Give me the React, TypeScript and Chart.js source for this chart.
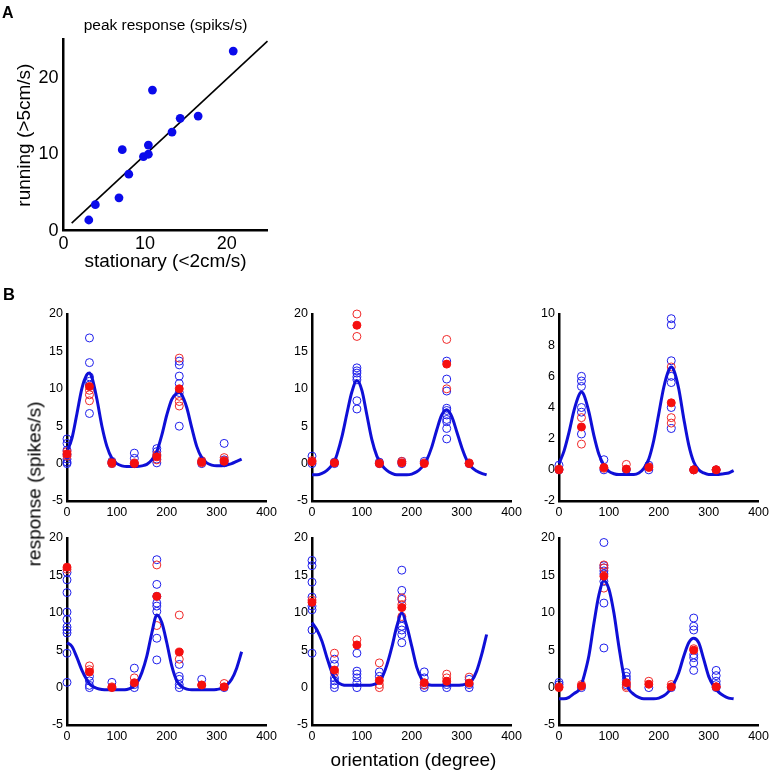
import React, { useEffect, useRef } from "react";
import { Chart, registerables } from "chart.js";

Chart.register(...registerables);

const FONT = '"Liberation Sans", Arial, Helvetica, sans-serif';
Chart.defaults.font.family = FONT;
Chart.defaults.color = "#000";

// ---------- Panel A data ----------
const A_STATIONARY = [3.1, 3.9, 6.8, 7.2, 8.0, 9.8, 10.4, 10.4, 10.9, 13.3, 14.3, 16.5, 20.8];
const A_RUNNING = [1.4, 3.4, 4.3, 10.6, 7.4, 9.7, 10.0, 11.2, 18.4, 12.9, 14.7, 15.0, 23.5];
const A_FIT_X = [1, 25];
const A_FIT_Y = [1, 24.8];
const A_TICKS = [0, 10, 20];

// ---------- Panel B data ----------
const ANGLES = [0, 45, 90, 135, 180, 225, 270, 315];
const CURVE_ANGLES = [
  0, 10, 20, 30, 40, 45, 50, 60, 70, 80, 90, 100, 110, 120, 130, 140, 150, 160, 170,
  180, 190, 200, 210, 220, 225, 230, 240, 250, 260, 270, 280, 290, 300, 310, 320, 330, 340, 350,
];

// cell 1 (top-left)
const C1_BLUE = [
  [3.3, 2.7, 1.8, 1.2, 0.6, 0.2, 0],
  [16.8, 13.5, 11.6, 11.0, 10.5, 6.7],
  [0.3, 0],
  [1.4, 0.7, 0],
  [2.0, 1.6, 1.1, 0.6, 0.1],
  [13.7, 13.2, 11.7, 10.7, 9.5, 5.0],
  [0.3, 0],
  [2.7, 0.5, 0.1],
];
const C1_RED_OPEN = [[1.6, 1.0], [9.8, 9.2, 8.4], [0.2, 0], [0.1], [1.2, 0.5], [14.1, 9.0, 8.3, 7.7], [0.4, 0.1], [0.8, 0.4]];
const C1_RED_MEAN = [1.3, 10.3, 0.1, 0.0, 0.9, 10.0, 0.2, 0.3];
const C1_CURVE = [
  1.6, 3.4, 6.7, 10.1, 11.9, 12.1, 11.5, 8.6, 5.0, 2.3, 0.7, 0.0, -0.3, -0.4, -0.4, -0.4, -0.3, -0.1, 0.5,
  1.6, 3.8, 6.5, 8.6, 9.4, 9.5, 9.2, 7.5, 4.8, 2.3, 0.8, 0.1, -0.2, -0.3, -0.3, -0.2, 0.0, 0.3, 0.6,
];

// cell 2 (top-middle)
const C2_BLUE = [
  [1.0, 0],
  [0.2, 0],
  [12.8, 12.4, 12.1, 11.6, 11.2, 8.4, 7.3],
  [0.2, 0],
  [0.3, 0],
  [0.3],
  [13.7, 11.3, 9.7, 7.4, 7.1, 6.5, 5.9, 5.6, 4.7, 3.3],
  [0],
];
const C2_RED_OPEN = [[0.4], [0.1], [20.0, 17.0], [0.1], [0.3], [0.1], [16.6, 10.0], [0.1]];
const C2_RED_MEAN = [0.25, 0.1, 18.5, 0.0, 0.1, 0.0, 13.3, 0.0];
const C2_CURVE = [
  -1.5, -1.5, -1.3, -0.9, -0.2, 0.3, 1.2, 3.6, 6.7, 9.6, 11.1, 9.8, 6.5, 3.2, 1.0, -0.2, -0.9, -1.3, -1.5,
  -1.5, -1.5, -1.4, -1.1, -0.5, 0.0, 0.5, 2.2, 4.5, 6.5, 7.2, 6.3, 4.3, 2.2, 0.5, -0.5, -1.0, -1.3, -1.5,
];

// cell 3 (top-right)
const C3_BLUE = [
  [0.3, 0],
  [6.0, 5.7, 5.35, 4.0, 3.7, 2.3],
  [0.65, 0],
  [0],
  [0.3, 0],
  [9.7, 9.3, 7.0, 6.0, 5.6, 4.0, 2.65],
  [0],
  [0],
];
const C3_RED_OPEN = [[0.05], [3.35, 1.65], [0.1], [0.35], [0.2], [6.6, 3.35, 3.0], [0], [0]];
const C3_RED_MEAN = [0.0, 2.75, 0.15, 0.05, 0.15, 4.3, 0.0, 0.0];
const C3_CURVE = [
  0.4, 1.2, 2.4, 3.8, 4.8, 5.0, 4.8, 3.7, 2.2, 1.0, 0.3, -0.1, -0.25, -0.3, -0.3, -0.3, -0.3, -0.2, 0.1,
  0.7, 1.9, 3.6, 5.3, 6.4, 6.6, 6.4, 5.2, 3.3, 1.6, 0.5, 0.0, -0.2, -0.3, -0.3, -0.3, -0.25, -0.2, -0.05,
];

// cell 4 (bottom-left)
const C4_BLUE = [
  [15.4, 14.4, 12.7, 10.1, 9.1, 8.1, 7.7, 7.3, 4.6, 0.7],
  [1.5, 0.9, 0.3, 0],
  [0.7],
  [2.6, 0.4, 0],
  [17.1, 13.8, 12.2, 11.3, 10.9, 10.2, 6.6, 3.7],
  [3.1, 1.5, 1.1, 0.4, 0],
  [1.1],
  [0],
];
const C4_RED_OPEN = [[15.8], [2.9, 2.4], [0.1], [1.3], [16.4, 8.3], [9.7, 3.8], [0.3], [0.55]];
const C4_RED_MEAN = [16.1, 2.1, 0.0, 0.65, 12.2, 4.75, 0.35, 0.1];
const C4_CURVE = [
  6.0, 5.5, 4.0, 2.3, 1.0, 0.5, 0.2, -0.1, -0.25, -0.3, -0.3, -0.3, -0.3, -0.25, 0.0, 0.6, 2.0, 4.2, 7.3,
  9.7, 8.7, 6.0, 2.9, 0.9, 0.45, 0.1, -0.2, -0.3, -0.3, -0.3, -0.3, -0.3, -0.25, -0.1, 0.3, 1.1, 2.6, 4.8,
];

// cell 5 (bottom-middle)
const C5_BLUE = [
  [17.0, 16.3, 14.1, 12.1, 10.9, 10.4, 7.7, 4.6],
  [3.8, 3.1, 1.3, 0.9, 0.4, 0],
  [4.6, 2.2, 1.8, 1.3, 0.65, 0],
  [2.1, 1.5],
  [15.7, 13.0, 11.8, 9.3, 8.2, 7.7, 7.1, 6.0],
  [2.1, 1.3, 0.4, 0],
  [0.4, 0],
  [1.1, 0.4, 0],
];
const C5_RED_OPEN = [[11.7], [4.6, 2.0], [6.4], [3.3, 0.4, 0], [12.0, 11.1, 9.5], [0.3], [1.8, 1.3], [1.4]];
const C5_RED_MEAN = [11.4, 2.35, 5.7, 0.95, 10.7, 0.65, 0.85, 0.6];
const C5_CURVE = [
  8.7, 7.7, 6.2, 4.0, 2.0, 1.3, 0.8, 0.4, 0.3, 0.3, 0.3, 0.3, 0.3, 0.35, 0.6, 1.3, 3.0, 5.4, 8.2,
  10.0, 8.2, 5.5, 2.7, 1.1, 0.7, 0.5, 0.3, 0.3, 0.3, 0.3, 0.3, 0.3, 0.35, 0.5, 0.9, 2.2, 4.4, 7.1,
];

// cell 6 (bottom-right)
const C6_BLUE = [
  [0.7, 0.4],
  [0],
  [19.4, 16.3, 16.0, 15.6, 15.2, 14.2, 11.3, 5.3],
  [2.0, 1.5, 1.1, 0.4],
  [0],
  [0],
  [9.3, 8.2, 7.7, 4.4, 4.0, 3.3, 2.3],
  [2.3, 1.6, 0.85, 0.4, 0],
];
const C6_RED_OPEN = [[0.1], [0.4], [16.4, 16.0, 13.3], [0.2, 0], [0.85], [0.4], [5.2], [0.1]];
const C6_RED_MEAN = [0.0, 0.2, 14.9, 0.65, 0.45, 0.1, 5.0, 0.1];
const C6_CURVE = [
  -1.5, -1.5, -1.3, -0.8, -0.3, 0.4, 1.5, 4.3, 8.6, 12.4, 14.3, 13.2, 10.0, 5.5, 1.6, -0.2, -0.9, -1.3, -1.5,
  -1.5, -1.5, -1.4, -1.1, -0.5, 0.0, 0.5, 2.0, 4.2, 6.0, 6.6, 6.0, 3.8, 1.5, 0.2, -0.6, -1.1, -1.4, -1.5,
];

const X_TICKS = [0, 100, 200, 300, 400];
const Y_RANGE_WIDE = [-5, 20, 5];
const Y_RANGE_NARROW = [-2, 10, 2];

// ---------- styles ----------
const BLUE_PT = "rgb(30,30,235)";
const RED_PT = "rgb(245,15,15)";
const RED_OPEN = "rgb(240,40,40)";
const CURVE_BLUE = "rgb(15,15,215)";
const A_DOT = "rgb(10,10,235)";

const PLOT_W = 202;
const PLOT_H = 187;
const Y_AXIS_W = 50;
const X_AXIS_H = 25;
const PAD_TOP = 12;
const PAD_RIGHT = 12;

type Cell = {
  blue: number[][];
  redOpen: number[][];
  redMean: number[];
  curve: number[];
  yRange: number[];
  plotLeft: number;
  plotTop: number;
};

const CELLS: Cell[] = [
  { blue: C1_BLUE, redOpen: C1_RED_OPEN, redMean: C1_RED_MEAN, curve: C1_CURVE, yRange: Y_RANGE_WIDE, plotLeft: 67, plotTop: 314 },
  { blue: C2_BLUE, redOpen: C2_RED_OPEN, redMean: C2_RED_MEAN, curve: C2_CURVE, yRange: Y_RANGE_WIDE, plotLeft: 312, plotTop: 314 },
  { blue: C3_BLUE, redOpen: C3_RED_OPEN, redMean: C3_RED_MEAN, curve: C3_CURVE, yRange: Y_RANGE_NARROW, plotLeft: 559, plotTop: 314 },
  { blue: C4_BLUE, redOpen: C4_RED_OPEN, redMean: C4_RED_MEAN, curve: C4_CURVE, yRange: Y_RANGE_WIDE, plotLeft: 67, plotTop: 538 },
  { blue: C5_BLUE, redOpen: C5_RED_OPEN, redMean: C5_RED_MEAN, curve: C5_CURVE, yRange: Y_RANGE_WIDE, plotLeft: 312, plotTop: 538 },
  { blue: C6_BLUE, redOpen: C6_RED_OPEN, redMean: C6_RED_MEAN, curve: C6_CURVE, yRange: Y_RANGE_WIDE, plotLeft: 559, plotTop: 538 },
];

const toPoints = (groups: number[][]) =>
  ANGLES.flatMap((a, i) => groups[i].map((v) => ({ x: a, y: v })));

const NO_GRID = { display: false, drawTicks: false, tickLength: 0 };

function cellConfig(c: Cell): any {
  const [ymin, ymax, ystep] = c.yRange;
  return {
    type: "scatter",
    data: {
      datasets: [
        {
          data: ANGLES.map((a, i) => ({ x: a, y: c.redMean[i] })),
          pointRadius: 4,
          pointBorderWidth: 1,
          backgroundColor: RED_PT,
          borderColor: RED_PT,
          pointBackgroundColor: RED_PT,
          pointBorderColor: RED_PT,
          clip: false,
        },
        {
          data: CURVE_ANGLES.map((a, i) => ({ x: a, y: c.curve[i] })),
          showLine: true,
          borderColor: CURVE_BLUE,
          borderWidth: 3,
          pointRadius: 0,
          cubicInterpolationMode: "monotone",
          fill: false,
          clip: false,
        },
        {
          data: toPoints(c.redOpen),
          pointRadius: 4,
          pointBorderWidth: 1,
          backgroundColor: "rgba(0,0,0,0)",
          borderColor: RED_OPEN,
          pointBackgroundColor: "rgba(0,0,0,0)",
          pointBorderColor: RED_OPEN,
          clip: false,
        },
        {
          data: toPoints(c.blue),
          pointRadius: 4,
          pointBorderWidth: 1,
          backgroundColor: "rgba(0,0,0,0)",
          borderColor: BLUE_PT,
          pointBackgroundColor: "rgba(0,0,0,0)",
          pointBorderColor: BLUE_PT,
          clip: false,
        },
      ],
    },
    options: {
      animation: false,
      responsive: false,
      devicePixelRatio: 1,
      events: [],
      layout: { padding: { top: PAD_TOP, right: PAD_RIGHT, left: 0, bottom: 0 } },
      plugins: { legend: { display: false }, tooltip: { enabled: false }, title: { display: false } },
      scales: {
        x: {
          type: "linear",
          min: X_TICKS[0],
          max: X_TICKS[X_TICKS.length - 1],
          afterBuildTicks: (s: any) => {
            s.ticks = X_TICKS.map((v) => ({ value: v }));
          },
          ticks: { padding: 4, font: { size: 12.5 }, color: "#000", maxRotation: 0, autoSkip: false },
          grid: NO_GRID,
          border: { display: true, color: "#000", width: 2.5 },
          afterFit: (s: any) => {
            s.height = X_AXIS_H;
          },
        },
        y: {
          type: "linear",
          min: ymin,
          max: ymax,
          ticks: { stepSize: ystep, padding: 4, font: { size: 12.5 }, color: "#000", autoSkip: false },
          grid: NO_GRID,
          border: { display: true, color: "#000", width: 2.5 },
          afterFit: (s: any) => {
            s.width = Y_AXIS_W;
          },
        },
      },
    },
  };
}

// Panel A geometry
const A_W = 290;
const A_H = 282;
const A_PLOT_LEFT = 63.5;
const A_PLOT_RIGHT = 267.5;
const A_PLOT_BOTTOM = 230.7;

function panelAConfig(): any {
  return {
    type: "scatter",
    data: {
      datasets: [
        {
          data: A_STATIONARY.map((x, i) => ({ x, y: A_RUNNING[i] })),
          pointRadius: 4.4,
          pointBorderWidth: 0,
          backgroundColor: A_DOT,
          borderColor: A_DOT,
          pointBackgroundColor: A_DOT,
          pointBorderColor: A_DOT,
          clip: false,
        },
        {
          data: A_FIT_X.map((x, i) => ({ x, y: A_FIT_Y[i] })),
          showLine: true,
          borderColor: "#000",
          borderWidth: 1.6,
          pointRadius: 0,
          fill: false,
          clip: false,
        },
      ],
    },
    options: {
      animation: false,
      responsive: false,
      devicePixelRatio: 1,
      events: [],
      layout: { padding: { top: 0, right: A_W - A_PLOT_RIGHT, left: 0, bottom: 0 } },
      plugins: {
        legend: { display: false },
        tooltip: { enabled: false },
        title: {
          display: true,
          text: "peak response (spiks/s)",
          fullSize: false,
          color: "#000",
          font: { size: 15.5, weight: "normal" },
          padding: { top: 16, bottom: 5 },
        },
      },
      scales: {
        x: {
          type: "linear",
          min: 0,
          max: 25,
          afterBuildTicks: (s: any) => {
            s.ticks = A_TICKS.map((v) => ({ value: v }));
          },
          ticks: { padding: 3, font: { size: 18 }, color: "#000", maxRotation: 0, autoSkip: false },
          grid: NO_GRID,
          border: { display: true, color: "#000", width: 2.5 },
          title: {
            display: true,
            text: "stationary (<2cm/s)",
            color: "#000",
            font: { size: 19 },
            padding: { top: 0, bottom: 8.6 },
          },
          afterFit: (s: any) => {
            s.height = A_H - A_PLOT_BOTTOM;
          },
        },
        y: {
          type: "linear",
          min: 0,
          max: 25,
          afterBuildTicks: (s: any) => {
            s.ticks = A_TICKS.map((v) => ({ value: v }));
          },
          ticks: { padding: 5, font: { size: 18 }, color: "#000", autoSkip: false },
          grid: NO_GRID,
          border: { display: true, color: "#000", width: 2.5 },
          title: {
            display: true,
            text: "running (>5cm/s)",
            color: "#000",
            font: { size: 19 },
            padding: { top: 13.6, bottom: 0 },
          },
          afterFit: (s: any) => {
            s.width = A_PLOT_LEFT;
          },
        },
      },
    },
  };
}

function ChartBox(props: { left: number; top: number; width: number; height: number; make: () => any }) {
  const ref = useRef<HTMLCanvasElement | null>(null);
  useEffect(() => {
    if (!ref.current) return;
    const chart = new Chart(ref.current, props.make());
    return () => chart.destroy();
  }, []);
  const { left, top, width, height } = props;
  return (
    <div style={{ position: "absolute", left, top, width, height }}>
      <canvas ref={ref} width={width} height={height} style={{ width, height, display: "block" }} />
    </div>
  );
}

export default function App() {
  const textBase: React.CSSProperties = {
    position: "absolute",
    fontFamily: FONT,
    color: "#000",
    whiteSpace: "nowrap",
    lineHeight: 1,
  };
  return (
    <div
      style={{
        position: "absolute",
        left: 0,
        top: 0,
        width: 772,
        height: 775,
        background: "#fff",
        overflow: "hidden",
      }}
    >
      <ChartBox left={0} top={0} width={A_W} height={A_H} make={panelAConfig} />
      {CELLS.map((c, i) => (
        <ChartBox
          key={i}
          left={c.plotLeft - Y_AXIS_W}
          top={c.plotTop - PAD_TOP}
          width={Y_AXIS_W + PLOT_W + PAD_RIGHT}
          height={PAD_TOP + PLOT_H + X_AXIS_H}
          make={() => cellConfig(c)}
        />
      ))}
      <div style={{ ...textBase, left: 2, top: 5, fontSize: 16, fontWeight: "bold" }}>A</div>
      <div style={{ ...textBase, left: 3, top: 286, fontSize: 16.5, fontWeight: "bold" }}>B</div>
      <div
        style={{
          ...textBase,
          left: 34,
          top: 484,
          fontSize: 19,
          transform: "translate(-50%, -50%) rotate(-90deg)",
        }}
      >
        response (spikes/s)
      </div>
      <div
        style={{
          ...textBase,
          left: 413.5,
          top: 759,
          fontSize: 19,
          transform: "translate(-50%, -50%)",
        }}
      >
        orientation (degree)
      </div>
    </div>
  );
}
